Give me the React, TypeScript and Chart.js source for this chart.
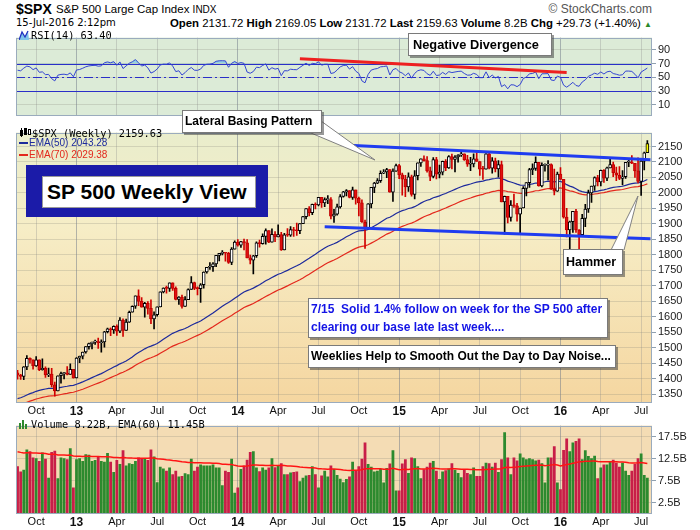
import React, { useEffect, useRef } from "react";
import { Chart, registerables } from "chart.js";

Chart.register(...registerables);

const FONT = '"Liberation Sans", Arial, Helvetica, sans-serif';
const MONO = '"DejaVu Sans Mono", "Liberation Mono", monospace';

// ---------------- data ----------------
const firstWeek = "2012-08-24"; // Friday of the first weekly bar
const priorClose = 1418.16; // close of the week before the first bar

const closes = [
  1411.13, 1406.58, 1437.92, 1465.77, 1460.15, 1440.67, 1460.93, 1428.59, 1433.19, 1411.94, 1414.2, 1379.85, 1359.88, 1409.15, 1416.18, 1418.07, 1413.58, 1430.15, 1402.43,
  1466.47, 1472.05, 1485.98, 1502.96, 1513.17, 1517.93, 1519.79, 1515.6, 1518.2, 1551.18, 1560.7, 1556.89, 1569.19, 1553.28, 1588.85, 1555.25, 1582.24, 1614.42, 1633.7, 1667.47, 1649.6, 1630.74, 1643.38, 1626.73, 1592.43, 1606.28, 1631.89, 1680.19, 1692.09, 1691.65, 1709.67, 1691.42, 1655.83, 1663.5, 1632.97, 1655.17, 1687.99, 1709.91, 1691.75, 1690.5, 1703.2, 1744.5, 1759.77, 1761.64, 1770.61, 1798.18, 1804.76, 1805.81, 1805.09, 1775.32, 1818.32, 1841.4,
  1831.37, 1842.37, 1838.7, 1790.29, 1782.59, 1797.02, 1838.63, 1836.25, 1859.45, 1878.04, 1841.13, 1866.52, 1857.62, 1865.09, 1815.69, 1864.85, 1863.4, 1881.14, 1878.48, 1877.86, 1900.53, 1923.57, 1949.44, 1936.16, 1962.87, 1960.96, 1985.44, 1967.57, 1978.22, 1978.34, 1925.15, 1931.59, 1955.06, 1988.4, 2003.37, 2007.71, 1985.54, 2010.4, 1982.85, 1967.9, 1906.13, 1886.76, 1964.58, 2018.05, 2031.92, 2039.82, 2063.5, 2067.56, 2075.37, 2002.33, 2070.65, 2088.77,
  2058.2, 2044.81, 2019.42, 2051.82, 1994.99, 2055.47, 2096.99, 2110.3, 2104.5, 2071.26, 2053.4, 2108.1, 2061.02, 2066.96, 2102.06, 2081.18, 2117.69, 2108.29, 2116.1, 2122.73, 2126.06, 2107.39, 2092.83, 2094.11, 2109.99, 2101.49, 2076.78, 2076.62, 2126.64, 2079.65, 2103.84, 2077.57, 2091.54, 1970.89, 1988.87, 1921.22, 1961.05, 1958.03, 1931.34, 1951.36, 2014.89, 2033.11, 2075.15, 2079.36, 2099.2, 2023.04, 2089.17, 2090.11, 2091.69, 2012.37, 2005.55, 2060.99, 2043.94,
  1922.03, 1880.33, 1906.9, 1940.24, 1880.05, 1864.78, 1917.78, 1948.05, 1999.99, 2022.19, 2049.58, 2035.94, 2072.78, 2047.6, 2080.73, 2091.58, 2065.3, 2057.14, 2046.61, 2052.32, 2099.06, 2099.13, 2096.07, 2071.22, 2037.41, 2102.95, 2129.9, 2159.63,
];

const highs = [
  1426.68, 1413.46, 1438.74, 1474.51, 1467.07, 1460.72, 1470.96, 1460.93, 1464.02, 1437.76, 1434.27, 1433.38, 1388.81, 1409.16, 1420.6, 1420.45, 1438.59, 1448.0, 1430.15,
  1467.94, 1472.75, 1485.98, 1503.26, 1514.41, 1518.31, 1524.69, 1530.94, 1525.34, 1552.48, 1563.32, 1563.62, 1570.28, 1573.66, 1597.35, 1593.07, 1592.64, 1618.46, 1635.01, 1667.47, 1687.18, 1661.5, 1646.53, 1648.69, 1654.19, 1615.94, 1631.89, 1680.19, 1693.12, 1698.78, 1709.67, 1709.24, 1696.81, 1664.81, 1669.51, 1664.73, 1689.97, 1729.44, 1711.44, 1696.55, 1707.38, 1745.31, 1759.82, 1775.22, 1774.54, 1798.22, 1804.84, 1813.55, 1805.81, 1808.37, 1823.75, 1844.89,
  1849.44, 1843.23, 1850.84, 1849.31, 1798.77, 1798.03, 1841.65, 1847.5, 1867.92, 1883.57, 1878.26, 1883.97, 1875.18, 1897.28, 1872.53, 1869.63, 1884.89, 1891.33, 1889.07, 1902.17, 1901.26, 1924.03, 1949.44, 1955.55, 1963.91, 1968.17, 1985.59, 1984.85, 1983.94, 1991.39, 1984.68, 1946.72, 1964.04, 1994.76, 2005.04, 2011.17, 2007.71, 2019.26, 2009.08, 1986.37, 1977.65, 1912.09, 1965.27, 2018.19, 2034.26, 2046.18, 2071.46, 2075.76, 2079.47, 2075.78, 2077.85, 2093.55,
  2092.7, 2064.43, 2056.93, 2064.62, 2057.62, 2072.4, 2097.03, 2110.61, 2119.59, 2117.52, 2083.49, 2113.93, 2114.86, 2089.81, 2102.61, 2107.65, 2120.92, 2125.92, 2120.95, 2124.25, 2134.72, 2126.22, 2121.92, 2115.02, 2126.65, 2130.29, 2101.49, 2085.67, 2127.24, 2132.82, 2114.24, 2112.66, 2104.18, 2102.87, 1989.6, 1988.87, 1975.01, 1996.63, 1966.17, 1951.36, 2020.86, 2033.54, 2079.74, 2094.32, 2116.48, 2099.2, 2097.06, 2094.12, 2104.27, 2093.84, 2076.72, 2067.65, 2081.56,
  2043.94, 1950.33, 1908.85, 1940.24, 1947.2, 1881.6, 1930.68, 1962.96, 2009.13, 2022.37, 2052.36, 2056.6, 2074.02, 2075.07, 2083.92, 2111.05, 2099.89, 2083.42, 2084.87, 2071.88, 2099.3, 2105.26, 2120.55, 2096.07, 2113.32, 2108.71, 2131.71, 2169.05,
];

const lows = [
  1398.04, 1397.01, 1396.56, 1429.13, 1449.98, 1430.53, 1439.0, 1425.53, 1427.24, 1403.28, 1405.95, 1373.03, 1343.35, 1359.88, 1385.43, 1398.85, 1411.88, 1413.54, 1401.58,
  1402.43, 1451.64, 1463.76, 1482.29, 1495.29, 1495.97, 1510.56, 1497.29, 1485.01, 1501.48, 1547.36, 1538.57, 1546.22, 1539.5, 1548.19, 1536.03, 1555.25, 1581.28, 1614.42, 1626.74, 1635.53, 1630.74, 1598.23, 1608.07, 1577.7, 1560.33, 1601.26, 1631.89, 1676.89, 1676.03, 1681.86, 1684.91, 1654.19, 1639.43, 1627.47, 1633.41, 1655.17, 1687.99, 1687.11, 1670.36, 1646.47, 1692.13, 1740.5, 1752.7, 1746.2, 1761.56, 1780.64, 1799.8, 1779.09, 1772.28, 1767.99, 1818.32,
  1827.74, 1823.73, 1815.52, 1790.29, 1770.45, 1737.92, 1791.22, 1824.58, 1834.44, 1834.6, 1839.57, 1841.13, 1842.07, 1857.62, 1814.36, 1815.8, 1859.7, 1859.79, 1859.79, 1862.36, 1868.14, 1900.53, 1915.98, 1925.78, 1930.11, 1948.34, 1958.22, 1952.86, 1955.59, 1965.14, 1916.37, 1904.78, 1928.29, 1951.0, 1986.0, 1990.1, 1983.53, 1978.63, 1964.04, 1926.03, 1905.03, 1820.66, 1882.3, 1951.37, 2001.01, 2030.17, 2033.74, 2062.0, 2049.57, 2002.33, 1972.56, 2069.28,
  2046.04, 1992.44, 1988.12, 2004.49, 1989.18, 1980.9, 2041.88, 2085.44, 2103.0, 2066.78, 2039.69, 2048.38, 2045.5, 2048.38, 2057.99, 2072.3, 2079.25, 2077.52, 2067.93, 2099.18, 2117.69, 2104.89, 2085.67, 2072.14, 2084.02, 2101.49, 2056.32, 2044.02, 2076.62, 2077.84, 2063.52, 2067.91, 2052.09, 1970.89, 1867.01, 1903.07, 1909.09, 1953.09, 1908.77, 1871.91, 1951.36, 1990.73, 2018.19, 2059.4, 2072.36, 2022.04, 2019.39, 2070.29, 2042.35, 2011.27, 1993.26, 2005.0, 2043.62,
  1918.46, 1857.83, 1812.29, 1872.65, 1872.65, 1810.1, 1864.78, 1891.0, 1937.09, 1969.25, 2007.79, 2022.49, 2022.49, 2033.8, 2039.74, 2080.73, 2052.28, 2039.45, 2043.13, 2025.91, 2047.26, 2085.05, 2094.32, 2050.37, 2032.57, 1991.68, 2074.02, 2129.9,
];

// weekly volume, billions of shares
const volumes = [
  10.8, 9.6, 10.0, 14.6, 14.2, 12.8, 12.6, 12.0, 13.9, 12.5, 8.2, 14.0, 14.3, 8.1, 12.8, 12.6, 12.4, 14.9, 6.0,
  12.4, 12.6, 12.0, 13.5, 13.4, 12.0, 12.2, 13.0, 12.0, 11.8, 13.8, 11.8, 9.5, 12.2, 11.3, 14.4, 11.0, 11.5, 11.3, 12.0, 12.8, 12.5, 12.5, 12.2, 14.6, 13.0, 7.2, 10.7, 10.3, 9.8, 10.5, 9.0, 9.8, 8.5, 8.6, 9.2, 9.0, 12.5, 9.8, 10.7, 11.2, 11.0, 11.0, 11.0, 11.2, 10.5, 10.5, 6.5, 9.8, 9.5, 12.5, 4.8,
  6.0, 10.2, 11.0, 12.3, 14.0, 14.2, 10.5, 9.7, 10.5, 10.0, 10.5, 12.6, 10.6, 11.0, 11.5, 9.0, 9.0, 9.4, 9.5, 9.6, 7.4, 8.2, 8.7, 8.8, 10.8, 9.0, 6.0, 8.7, 9.8, 8.5, 11.0, 10.2, 8.8, 8.0, 7.2, 7.9, 8.5, 11.8, 9.8, 10.8, 12.5, 16.2, 11.3, 10.7, 9.6, 9.8, 10.2, 7.1, 10.4, 11.4, 14.4, 5.3,
  5.3, 11.4, 12.4, 9.3, 12.8, 12.6, 10.8, 8.1, 10.1, 10.7, 11.6, 12.0, 9.8, 7.9, 9.6, 9.9, 10.3, 11.5, 10.0, 9.3, 8.3, 10.0, 9.3, 9.0, 10.5, 8.6, 8.6, 10.8, 11.6, 11.5, 10.7, 11.6, 9.5, 12.4, 18.5, 12.8, 9.0, 12.8, 12.1, 13.7, 12.8, 12.4, 12.6, 12.4, 12.1, 12.3, 11.5, 7.1, 12.8, 12.8, 15.3, 7.1, 5.6,
  14.5, 17.1, 14.2, 16.2, 16.5, 17.1, 12.4, 14.4, 13.1, 12.6, 13.2, 8.1, 10.5, 11.2, 11.2, 11.9, 12.3, 11.6, 10.7, 11.6, 9.8, 8.8, 9.8, 11.3, 12.6, 13.7, 8.8, 8.2,
];

const priceTicks = [1350, 1400, 1450, 1500, 1550, 1600, 1650, 1700, 1750, 1800, 1850, 1900, 1950, 2000, 2050, 2100, 2150];
const rsiTicks = [10, 30, 50, 70, 90];
const volumeTicks = [2.5, 5, 7.5, 10, 12.5, 15, 17.5];
const rsiLevels = [70, 50, 30];

// hand-drawn annotation lines (week index, value)
const resistanceIdx = [105, 204];
const resistanceVal = [2155, 2107];
const supportIdx = [99, 204];
const supportVal = [1891, 1852];
const divergenceIdx = [91, 177];
const divergenceVal = [77, 57];

// indicator warm-up values (state before the first visible week)
const ema50Start = 1332;
const ema70Start = 1310;
const volEmaStart = 14.2;
const rsiGainStart = 16;
const rsiLossStart = 10;

// ---------------- derived ----------------
const N = closes.length;
const MONTHS = ["Jan", "Feb", "Mar", "Apr", "May", "Jun", "Jul", "Aug", "Sep", "Oct", "Nov", "Dec"];
const weekDates = Array.from({ length: N + 1 }, (_, i) => new Date(Date.parse(firstWeek) + i * 7 * 86400000));
const labels = weekDates.map((d) => d.toISOString().slice(0, 10));
const tickText = weekDates.map((d, i) => {
  if (i === 0) return "";
  const m = d.getUTCMonth();
  if (m === weekDates[i - 1].getUTCMonth() || m % 3 !== 0) return "";
  return m === 0 ? String(d.getUTCFullYear() % 100).padStart(2, "0") : MONTHS[m];
});
const isYear = (i: number) => /^\d/.test(tickText[i] || "");

const opens = [priorClose, ...closes.slice(0, -1)];
const up = closes.map((c, i) => c >= opens[i]);

function ema(vals: number[], period: number, seed: number) {
  const k = 2 / (period + 1);
  let e = seed;
  return vals.map((v) => (e += k * (v - e)));
}
function wilderRsi(vals: number[], prev: number, period: number, g0: number, l0: number) {
  let g = g0, l = l0, p = prev;
  return vals.map((c) => {
    const d = c - p;
    p = c;
    g = (g * (period - 1) + Math.max(d, 0)) / period;
    l = (l * (period - 1) + Math.max(-d, 0)) / period;
    return 100 - 100 / (1 + g / l);
  });
}
const ema50 = ema(closes, 50, ema50Start);
const ema70 = ema(closes, 70, ema70Start);
const volEma = ema(volumes, 60, volEmaStart);
const rsi14 = wilderRsi(closes, priorClose, 14, rsiGainStart, rsiLossStart);

const toPoints = (idx: number[], vals: number[]) => idx.map((ix, k) => ({ x: labels[ix], y: vals[k] }));

// ---------------- chart helpers ----------------
const FRAME = "#9aabbd";

function panelPlugin(fill: (ctx: CanvasRenderingContext2D, a: any) => any) {
  return {
    id: "panelFrame",
    beforeDraw(chart: any) {
      const { ctx, chartArea: a } = chart;
      ctx.save();
      ctx.fillStyle = fill(ctx, a);
      ctx.fillRect(a.left, a.top, a.right - a.left, a.bottom - a.top);
      ctx.restore();
    },
    afterDraw(chart: any) {
      const { ctx, chartArea: a } = chart;
      ctx.save();
      ctx.strokeStyle = FRAME;
      ctx.lineWidth = 1;
      ctx.strokeRect(Math.round(a.left) + 0.5, Math.round(a.top) + 0.5, Math.round(a.right - a.left) - 1, Math.round(a.bottom - a.top) - 1);
      ctx.restore();
    },
  };
}

const rsiLevelPlugin = {
  id: "rsiLevels",
  beforeDatasetsDraw(chart: any) {
    const { ctx, chartArea: a, scales } = chart;
    rsiLevels.forEach((v) => {
      const py = Math.round(scales.y.getPixelForValue(v)) + 0.5;
      ctx.save();
      ctx.strokeStyle = "#2a2fc8";
      ctx.lineWidth = 1;
      ctx.setLineDash(v === 50 ? [9, 3, 2, 3] : []);
      ctx.beginPath();
      ctx.moveTo(a.left, py);
      ctx.lineTo(a.right, py);
      ctx.stroke();
      ctx.restore();
    });
  },
};

function xScale(showLabels: boolean, height: number) {
  return {
    type: "category",
    offset: true,
    grid: {
      offset: false,
      drawTicks: false,
      lineWidth: 1,
      color: (c: any) => (tickText[c.index] ? (isYear(c.index) ? "rgba(110,120,135,0.5)" : "rgba(140,140,140,0.32)") : "rgba(0,0,0,0)"),
    },
    border: { display: false },
    ticks: showLabels
      ? {
          autoSkip: false,
          maxRotation: 0,
          minRotation: 0,
          padding: 1,
          color: "#111",
          callback: (_v: any, i: number) => tickText[i],
          font: (c: any) => ({ family: FONT, size: isYear(c.index) ? 12 : 11, weight: isYear(c.index) ? "bold" : "normal" }),
        }
      : { display: false },
    afterFit: (s: any) => {
      s.height = height;
    },
  };
}

function yScale(min: number, max: number, ticksArr: number[], fmt: (v: number) => string) {
  return {
    position: "right",
    min,
    max,
    bounds: "data",
    afterBuildTicks: (s: any) => {
      s.ticks = ticksArr.map((v) => ({ value: v }));
    },
    afterFit: (s: any) => {
      s.width = 48;
    },
    grid: { color: "rgba(130,130,120,0.25)", tickLength: 4, tickColor: "#8fa0b0", drawTicks: true },
    border: { display: false },
    ticks: { padding: 2, color: "#1a1a1a", font: { family: FONT, size: 11 }, callback: (v: any) => fmt(Number(v)) },
  };
}

const baseOptions = {
  animation: false,
  responsive: false,
  maintainAspectRatio: false,
  events: [],
  layout: { padding: { left: 16, right: 0, top: 0, bottom: 0 } },
  plugins: { legend: { display: false }, tooltip: { enabled: false } },
};

// ---------------- overlays ----------------
const boxStyle: any = {
  position: "absolute",
  background: "#fff",
  border: "1px solid #7a7a7a",
  boxShadow: "2px 2px 0 rgba(70,70,70,0.55)",
  fontFamily: FONT,
  fontWeight: "bold",
  whiteSpace: "nowrap",
  boxSizing: "border-box",
};

export default function App() {
  const rsiRef = useRef<HTMLCanvasElement>(null);
  const priceRef = useRef<HTMLCanvasElement>(null);
  const volRef = useRef<HTMLCanvasElement>(null);

  useEffect(() => {
    const rsiChart = new Chart(rsiRef.current as any, {
      type: "line",
      data: {
        labels,
        datasets: [
          {
            label: "Divergence",
            data: toPoints(divergenceIdx, divergenceVal),
            borderColor: "#ee2020",
            borderWidth: 3,
            pointRadius: 0,
            order: 0,
          },
          {
            label: "RSI(14)",
            data: rsi14,
            borderColor: "#3445d2",
            borderWidth: 1,
            pointRadius: 0,
            fill: { target: { value: 70 }, above: "rgba(90,190,235,0.55)", below: "rgba(0,0,0,0)" },
            order: 1,
          },
        ],
      },
      options: {
        ...baseOptions,
        scales: { x: xScale(false, 0), y: yScale(-5.4, 107.7, rsiTicks, (v) => String(v)) },
      } as any,
      plugins: [panelPlugin(() => "#dcebd7"), rsiLevelPlugin],
    } as any);

    const bodyFill = closes.map((_, i) => (i === N - 1 ? "#ffff00" : up[i] ? "#ffffff" : "#e01010"));
    const bodyBorder = closes.map((_, i) => (i === N - 1 ? "#000000" : up[i] ? "#000000" : "#c00000"));
    const wickColor = closes.map((_, i) => (up[i] ? "#000000" : "#d00000"));

    const priceChart = new Chart(priceRef.current as any, {
      type: "bar",
      data: {
        labels,
        datasets: [
          { type: "line", label: "Resistance", data: toPoints(resistanceIdx, resistanceVal), borderColor: "#1f3cf0", borderWidth: 3, pointRadius: 0, order: 0 },
          { type: "line", label: "Support", data: toPoints(supportIdx, supportVal), borderColor: "#1f3cf0", borderWidth: 3, pointRadius: 0, order: 0 },
          {
            type: "bar",
            label: "Body",
            data: opens.map((o, i) => [o, closes[i]]),
            backgroundColor: bodyFill,
            borderColor: bodyBorder,
            borderWidth: 1,
            borderSkipped: false,
            barThickness: 3,
            minBarLength: 1,
            grouped: false,
            order: 1,
          },
          {
            type: "bar",
            label: "Wick",
            data: lows.map((l, i) => [l, highs[i]]),
            backgroundColor: wickColor,
            barThickness: 1,
            grouped: false,
            order: 2,
          },
          { type: "line", label: "EMA(50)", data: ema50, borderColor: "#1d2a9c", borderWidth: 1.2, pointRadius: 0, order: 3 },
          { type: "line", label: "EMA(70)", data: ema70, borderColor: "#e3281c", borderWidth: 1.2, pointRadius: 0, order: 3 },
        ],
      },
      options: {
        ...baseOptions,
        scales: { x: xScale(true, 14), y: yScale(1321, 2195, priceTicks, (v) => String(v)) },
      } as any,
      plugins: [
        panelPlugin((ctx, a) => {
          const g = ctx.createLinearGradient(0, a.top, 0, a.bottom);
          g.addColorStop(0, "#e9edcc");
          g.addColorStop(0.35, "#f6edc6");
          g.addColorStop(1, "#f5d6a0");
          return g;
        }),
      ],
    } as any);

    const volChart = new Chart(volRef.current as any, {
      type: "bar",
      data: {
        labels,
        datasets: [
          { type: "line", label: "EMA(60)", data: volEma, borderColor: "#ff1414", borderWidth: 1.5, pointRadius: 0, order: 0 },
          {
            type: "bar",
            label: "Volume",
            data: volumes,
            backgroundColor: up.map((u) => (u ? "#2c8a2e" : "#c81e48")),
            borderWidth: 0,
            barPercentage: 0.9,
            categoryPercentage: 1,
            order: 1,
          },
        ],
      },
      options: {
        ...baseOptions,
        scales: { x: xScale(true, 16), y: yScale(0, 20, volumeTicks, (v) => v.toFixed(1) + "B") },
      } as any,
      plugins: [panelPlugin(() => "#f4dcb4")],
    } as any);

    return () => {
      rsiChart.destroy();
      priceChart.destroy();
      volChart.destroy();
    };
  }, []);

  const abs = (left: number, top: number, extra: any = {}) => ({ position: "absolute", left, top, whiteSpace: "nowrap", ...extra });

  return (
    <div style={{ position: "fixed", left: 0, top: 0, width: 700, height: 530, background: "#fff", overflow: "hidden", fontFamily: FONT, color: "#000" }}>
      {/* header */}
      <div style={abs(16, 1, { fontSize: 14, fontWeight: "bold", lineHeight: "16px" }) as any}>$SPX</div>
      <div style={abs(56, 2, { fontSize: 11.5, lineHeight: "14px" }) as any}>
        S&amp;P 500 Large Cap Index <span style={{ fontSize: 10 }}>INDX</span>
      </div>
      <div style={abs(16, 17, { fontSize: 10, lineHeight: "12px", fontFamily: '"DejaVu Sans", Verdana, sans-serif' }) as any}>15-Jul-2016 2:12pm</div>
      <div style={{ position: "absolute", right: 48, top: 17, fontSize: 11.4, lineHeight: "12px", whiteSpace: "nowrap" }}>
        <b>Open</b> 2131.72 <b>High</b> 2169.05 <b>Low</b> 2131.72 <b>Last</b> 2159.63 <b>Volume</b> 8.2B <b>Chg</b> +29.73 (+1.40%){" "}
        <span style={{ color: "#2a8a2a", fontSize: 8 }}>▲</span>
      </div>
      <div style={{ position: "absolute", right: 48, top: 3, fontSize: 12, lineHeight: "13px", color: "#555", whiteSpace: "nowrap" }}>© StockCharts.com</div>

      {/* panels */}
      <canvas ref={rsiRef} width={700} height={95} style={{ position: "absolute", left: 0, top: 29, width: 700, height: 95 }} />
      <canvas ref={priceRef} width={700} height={293} style={{ position: "absolute", left: 0, top: 124, width: 700, height: 293 }} />
      <canvas ref={volRef} width={700} height={113} style={{ position: "absolute", left: 0, top: 417, width: 700, height: 113 }} />

      {/* panel legends */}
      <svg width={10} height={10} style={{ position: "absolute", left: 19, top: 30 }}>
        <polygon points="0,10 3,2 6,7 9,1 10,10" fill="#7fc4ea" />
        <polyline points="0,10 3,2 6,7 9,1" fill="none" stroke="#2030c0" strokeWidth={1.3} />
      </svg>
      <div style={abs(31, 29, { fontFamily: MONO, fontSize: 10.3, lineHeight: "12px" }) as any}>RSI(14) 63.40</div>

      <svg width={11} height={10} style={{ position: "absolute", left: 20, top: 127 }}>
        <rect x={0.5} y={3.5} width={2} height={5} fill="#fff" stroke="#000" />
        <line x1={1.5} y1={1} x2={1.5} y2={10} stroke="#000" />
        <rect x={4.5} y={1.5} width={2} height={6} fill="#000" stroke="#000" />
        <rect x={8.5} y={2.5} width={2} height={5} fill="#fff" stroke="#000" />
      </svg>
      <div style={abs(32, 126.5, { fontFamily: MONO, fontSize: 10.3, lineHeight: "12px" }) as any}>$SPX (Weekly) 2159.63</div>
      <div style={abs(19, 137, { fontSize: 10, lineHeight: "12px", color: "#1d2a9c" }) as any}>
        <span style={{ display: "inline-block", width: 9, height: 2, background: "#1d2a9c", verticalAlign: "middle", marginRight: 1 }} />
        EMA(50) 2043.28
      </div>
      <div style={abs(19, 149, { fontSize: 10, lineHeight: "12px", color: "#e3281c" }) as any}>
        <span style={{ display: "inline-block", width: 9, height: 2, background: "#e3281c", verticalAlign: "middle", marginRight: 1 }} />
        EMA(70) 2029.38
      </div>

      <svg width={10} height={10} style={{ position: "absolute", left: 19, top: 419 }}>
        <rect x={0} y={4} width={2} height={6} fill="#2f8a2f" />
        <rect x={3} y={1} width={2} height={9} fill="#2f8a2f" />
        <rect x={6} y={5} width={2} height={5} fill="#2f8a2f" />
      </svg>
      <div style={abs(31, 418, { fontFamily: MONO, fontSize: 10.3, lineHeight: "12px" }) as any}>Volume 8.22B, EMA(60) 11.45B</div>

      {/* callout pointers */}
      <svg width={700} height={530} style={{ position: "absolute", left: 0, top: 0, pointerEvents: "none" }}>
        <polygon points="321,121 311,133 375,160" fill="#fff" stroke="#808080" strokeWidth={1} />
        <polygon points="611,250 624,250 638,196" fill="#fff" stroke="#808080" strokeWidth={1} />
      </svg>

      {/* callout boxes */}
      <div style={{ ...boxStyle, left: 408, top: 33, width: 144, height: 23, fontSize: 12.8, lineHeight: "21px", paddingLeft: 4 }}>Negative Divergence</div>
      <div style={{ ...boxStyle, left: 182, top: 110, width: 140, height: 23, fontSize: 12, lineHeight: "21px", paddingLeft: 2 }}>Lateral Basing Pattern</div>
      <div style={{ position: "absolute", left: 26, top: 165, width: 242, height: 52, background: "#1b1ba8" }} />
      <div style={{ ...boxStyle, left: 42, top: 176, width: 214, height: 32, fontSize: 21, lineHeight: "30px", paddingLeft: 4, boxShadow: "none", border: "1px solid #9a9a9a" }}>SP 500 Weekly View</div>
      <div style={{ ...boxStyle, left: 563, top: 249, width: 60, height: 26, fontSize: 12.5, lineHeight: "24px", paddingLeft: 2 }}>Hammer</div>
      <div style={{ ...boxStyle, left: 308, top: 298, width: 300, height: 40, fontSize: 12, lineHeight: "17.5px", paddingLeft: 2, paddingTop: 2, color: "#1414e6" }}>
        7/15&nbsp; Solid 1.4% follow on week for the SP 500 after
        <br />
        clearing our base late last week....
      </div>
      <div style={{ ...boxStyle, left: 308, top: 345, width: 308, height: 23, fontSize: 12, lineHeight: "21px", paddingLeft: 2 }}>
        Weeklies Help to Smooth Out the Day to Day Noise...
      </div>
    </div>
  );
}
